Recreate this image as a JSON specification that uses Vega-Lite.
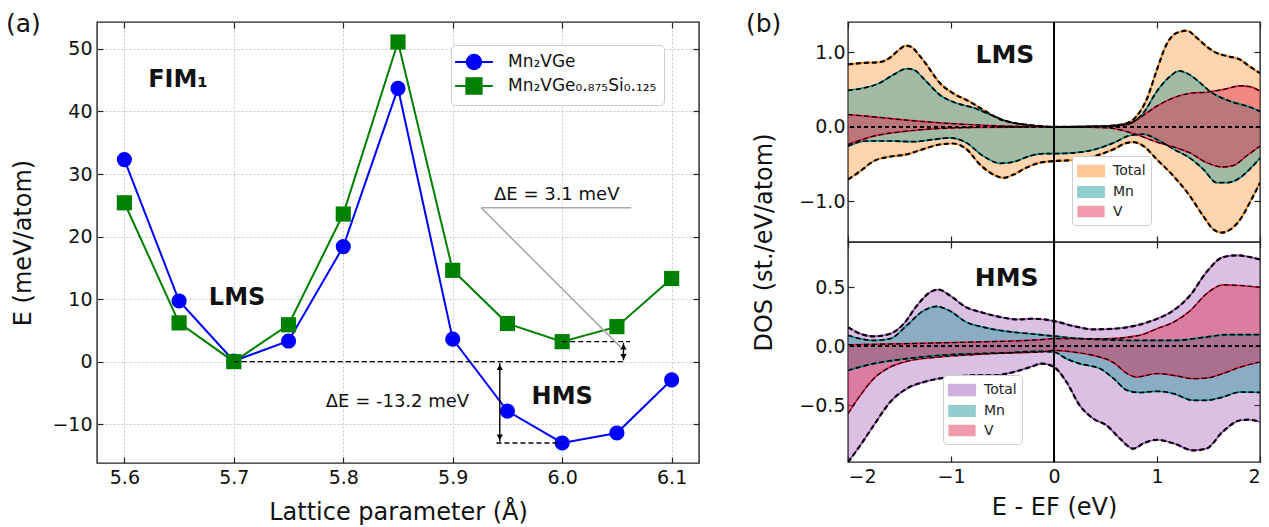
{
"$schema": "https://vega.github.io/schema/vega-lite/v6.json",
"background": "white",
"padding": {"left": 5, "top": 11, "right": 2, "bottom": 2},
"config": {
  "font": "DejaVu Sans",
  "view": {"stroke": "#222", "strokeWidth": 1.4},
  "axis": {"domain": false, "tickColor": "#222", "tickSize": -6, "tickWidth": 1.2, "labelFontSize": 19, "labelColor": "#111", "titleFontSize": 23, "titleFontWeight": "normal", "titleColor": "#111", "labelPadding": 11, "grid": false},
  "title": {"fontSize": 25, "fontWeight": "normal", "color": "#111", "baseline": "bottom"}
},
"datasets": {
  "energy": [
    {"a":5.60,"E":32.3,"c":"Mn₂VGe"},{"a":5.65,"E":9.7,"c":"Mn₂VGe"},{"a":5.70,"E":0.1,"c":"Mn₂VGe"},{"a":5.75,"E":3.3,"c":"Mn₂VGe"},{"a":5.80,"E":18.4,"c":"Mn₂VGe"},{"a":5.85,"E":43.7,"c":"Mn₂VGe"},{"a":5.90,"E":3.6,"c":"Mn₂VGe"},{"a":5.95,"E":-7.9,"c":"Mn₂VGe"},{"a":6.00,"E":-13.0,"c":"Mn₂VGe"},{"a":6.05,"E":-11.4,"c":"Mn₂VGe"},{"a":6.10,"E":-2.9,"c":"Mn₂VGe"},
    {"a":5.60,"E":25.4,"c":"Mn₂VGe₀.₈₇₅Si₀.₁₂₅"},{"a":5.65,"E":6.2,"c":"Mn₂VGe₀.₈₇₅Si₀.₁₂₅"},{"a":5.70,"E":0.0,"c":"Mn₂VGe₀.₈₇₅Si₀.₁₂₅"},{"a":5.75,"E":5.9,"c":"Mn₂VGe₀.₈₇₅Si₀.₁₂₅"},{"a":5.80,"E":23.6,"c":"Mn₂VGe₀.₈₇₅Si₀.₁₂₅"},{"a":5.85,"E":51.1,"c":"Mn₂VGe₀.₈₇₅Si₀.₁₂₅"},{"a":5.90,"E":14.6,"c":"Mn₂VGe₀.₈₇₅Si₀.₁₂₅"},{"a":5.95,"E":6.1,"c":"Mn₂VGe₀.₈₇₅Si₀.₁₂₅"},{"a":6.00,"E":3.2,"c":"Mn₂VGe₀.₈₇₅Si₀.₁₂₅"},{"a":6.05,"E":5.6,"c":"Mn₂VGe₀.₈₇₅Si₀.₁₂₅"},{"a":6.10,"E":13.3,"c":"Mn₂VGe₀.₈₇₅Si₀.₁₂₅"}
  ],
  "lms": [
    {"s":"Total","spin":"up","e":-2,"d":0.837},{"s":"Total","spin":"up","e":-1.88,"d":0.855},{"s":"Total","spin":"up","e":-1.69,"d":0.87},{"s":"Total","spin":"up","e":-1.59,"d":0.93},{"s":"Total","spin":"up","e":-1.5,"d":1.04},{"s":"Total","spin":"up","e":-1.44,"d":1.09},{"s":"Total","spin":"up","e":-1.38,"d":1.07},{"s":"Total","spin":"up","e":-1.32,"d":0.98},{"s":"Total","spin":"up","e":-1.24,"d":0.84},{"s":"Total","spin":"up","e":-1.11,"d":0.59},{"s":"Total","spin":"up","e":-0.98,"d":0.45},{"s":"Total","spin":"up","e":-0.82,"d":0.34},{"s":"Total","spin":"up","e":-0.69,"d":0.23},{"s":"Total","spin":"up","e":-0.52,"d":0.10},{"s":"Total","spin":"up","e":-0.36,"d":0.045},{"s":"Total","spin":"up","e":-0.2,"d":0.018},{"s":"Total","spin":"up","e":0,"d":0.0},{"s":"Total","spin":"up","e":0.19,"d":0.0},{"s":"Total","spin":"up","e":0.51,"d":0.01},{"s":"Total","spin":"up","e":0.71,"d":0.05},{"s":"Total","spin":"up","e":0.8,"d":0.14},{"s":"Total","spin":"up","e":0.9,"d":0.37},{"s":"Total","spin":"up","e":1.0,"d":0.77},{"s":"Total","spin":"up","e":1.09,"d":1.1},{"s":"Total","spin":"up","e":1.19,"d":1.26},{"s":"Total","spin":"up","e":1.29,"d":1.29},{"s":"Total","spin":"up","e":1.39,"d":1.19},{"s":"Total","spin":"up","e":1.48,"d":1.08},{"s":"Total","spin":"up","e":1.58,"d":0.99},{"s":"Total","spin":"up","e":1.68,"d":0.95},{"s":"Total","spin":"up","e":1.81,"d":0.90},{"s":"Total","spin":"up","e":1.90,"d":0.81},{"s":"Total","spin":"up","e":2.0,"d":0.72},
    {"s":"Total","spin":"dn","e":-2,"d":-0.707},{"s":"Total","spin":"dn","e":-1.88,"d":-0.595},{"s":"Total","spin":"dn","e":-1.75,"d":-0.46},{"s":"Total","spin":"dn","e":-1.59,"d":-0.40},{"s":"Total","spin":"dn","e":-1.43,"d":-0.37},{"s":"Total","spin":"dn","e":-1.27,"d":-0.30},{"s":"Total","spin":"dn","e":-1.11,"d":-0.237},{"s":"Total","spin":"dn","e":-0.98,"d":-0.224},{"s":"Total","spin":"dn","e":-0.85,"d":-0.30},{"s":"Total","spin":"dn","e":-0.72,"d":-0.505},{"s":"Total","spin":"dn","e":-0.59,"d":-0.64},{"s":"Total","spin":"dn","e":-0.49,"d":-0.685},{"s":"Total","spin":"dn","e":-0.39,"d":-0.64},{"s":"Total","spin":"dn","e":-0.27,"d":-0.55},{"s":"Total","spin":"dn","e":-0.14,"d":-0.483},{"s":"Total","spin":"dn","e":0,"d":-0.46},{"s":"Total","spin":"dn","e":0.19,"d":-0.447},{"s":"Total","spin":"dn","e":0.38,"d":-0.40},{"s":"Total","spin":"dn","e":0.58,"d":-0.30},{"s":"Total","spin":"dn","e":0.71,"d":-0.215},{"s":"Total","spin":"dn","e":0.77,"d":-0.206},{"s":"Total","spin":"dn","e":0.87,"d":-0.26},{"s":"Total","spin":"dn","e":1.0,"d":-0.44},{"s":"Total","spin":"dn","e":1.16,"d":-0.66},{"s":"Total","spin":"dn","e":1.32,"d":-0.93},{"s":"Total","spin":"dn","e":1.45,"d":-1.2},{"s":"Total","spin":"dn","e":1.55,"d":-1.38},{"s":"Total","spin":"dn","e":1.63,"d":-1.42},{"s":"Total","spin":"dn","e":1.71,"d":-1.38},{"s":"Total","spin":"dn","e":1.81,"d":-1.24},{"s":"Total","spin":"dn","e":1.90,"d":-1.02},{"s":"Total","spin":"dn","e":2.0,"d":-0.75},
    {"s":"Mn","spin":"up","e":-2,"d":0.49},{"s":"Mn","spin":"up","e":-1.69,"d":0.59},{"s":"Mn","spin":"up","e":-1.56,"d":0.70},{"s":"Mn","spin":"up","e":-1.43,"d":0.78},{"s":"Mn","spin":"up","e":-1.37,"d":0.77},{"s":"Mn","spin":"up","e":-1.24,"d":0.61},{"s":"Mn","spin":"up","e":-1.11,"d":0.43},{"s":"Mn","spin":"up","e":-0.95,"d":0.32},{"s":"Mn","spin":"up","e":-0.78,"d":0.255},{"s":"Mn","spin":"up","e":-0.62,"d":0.165},{"s":"Mn","spin":"up","e":-0.46,"d":0.076},{"s":"Mn","spin":"up","e":-0.27,"d":0.027},{"s":"Mn","spin":"up","e":0,"d":0.0},{"s":"Mn","spin":"up","e":0.51,"d":0.01},{"s":"Mn","spin":"up","e":0.74,"d":0.05},{"s":"Mn","spin":"up","e":0.87,"d":0.19},{"s":"Mn","spin":"up","e":1.0,"d":0.48},{"s":"Mn","spin":"up","e":1.13,"d":0.68},{"s":"Mn","spin":"up","e":1.21,"d":0.75},{"s":"Mn","spin":"up","e":1.29,"d":0.72},{"s":"Mn","spin":"up","e":1.42,"d":0.59},{"s":"Mn","spin":"up","e":1.51,"d":0.48},{"s":"Mn","spin":"up","e":1.61,"d":0.40},{"s":"Mn","spin":"up","e":1.74,"d":0.33},{"s":"Mn","spin":"up","e":1.87,"d":0.28},{"s":"Mn","spin":"up","e":2.0,"d":0.21},
    {"s":"Mn","spin":"dn","e":-2,"d":-0.26},{"s":"Mn","spin":"dn","e":-1.82,"d":-0.19},{"s":"Mn","spin":"dn","e":-1.59,"d":-0.19},{"s":"Mn","spin":"dn","e":-1.37,"d":-0.20},{"s":"Mn","spin":"dn","e":-1.17,"d":-0.17},{"s":"Mn","spin":"dn","e":-1.01,"d":-0.148},{"s":"Mn","spin":"dn","e":-0.85,"d":-0.215},{"s":"Mn","spin":"dn","e":-0.69,"d":-0.39},{"s":"Mn","spin":"dn","e":-0.52,"d":-0.49},{"s":"Mn","spin":"dn","e":-0.39,"d":-0.47},{"s":"Mn","spin":"dn","e":-0.23,"d":-0.39},{"s":"Mn","spin":"dn","e":-0.10,"d":-0.36},{"s":"Mn","spin":"dn","e":0,"d":-0.36},{"s":"Mn","spin":"dn","e":0.19,"d":-0.35},{"s":"Mn","spin":"dn","e":0.38,"d":-0.31},{"s":"Mn","spin":"dn","e":0.58,"d":-0.215},{"s":"Mn","spin":"dn","e":0.74,"d":-0.116},{"s":"Mn","spin":"dn","e":0.87,"d":-0.10},{"s":"Mn","spin":"dn","e":1.0,"d":-0.17},{"s":"Mn","spin":"dn","e":1.16,"d":-0.30},{"s":"Mn","spin":"dn","e":1.32,"d":-0.42},{"s":"Mn","spin":"dn","e":1.45,"d":-0.57},{"s":"Mn","spin":"dn","e":1.58,"d":-0.75},{"s":"Mn","spin":"dn","e":1.68,"d":-0.75},{"s":"Mn","spin":"dn","e":1.81,"d":-0.68},{"s":"Mn","spin":"dn","e":1.90,"d":-0.57},{"s":"Mn","spin":"dn","e":2.0,"d":-0.42},
    {"s":"V","spin":"up","e":-2,"d":0.165},{"s":"V","spin":"up","e":-1.75,"d":0.134},{"s":"V","spin":"up","e":-1.43,"d":0.09},{"s":"V","spin":"up","e":-1.11,"d":0.054},{"s":"V","spin":"up","e":-0.78,"d":0.027},{"s":"V","spin":"up","e":-0.46,"d":0.009},{"s":"V","spin":"up","e":0,"d":0.0},{"s":"V","spin":"up","e":0.51,"d":0.004},{"s":"V","spin":"up","e":0.71,"d":0.027},{"s":"V","spin":"up","e":0.83,"d":0.12},{"s":"V","spin":"up","e":1.0,"d":0.28},{"s":"V","spin":"up","e":1.16,"d":0.39},{"s":"V","spin":"up","e":1.32,"d":0.45},{"s":"V","spin":"up","e":1.48,"d":0.465},{"s":"V","spin":"up","e":1.64,"d":0.50},{"s":"V","spin":"up","e":1.81,"d":0.55},{"s":"V","spin":"up","e":1.90,"d":0.54},{"s":"V","spin":"up","e":2.0,"d":0.48},
    {"s":"V","spin":"dn","e":-2,"d":-0.237},{"s":"V","spin":"dn","e":-1.75,"d":-0.125},{"s":"V","spin":"dn","e":-1.43,"d":-0.058},{"s":"V","spin":"dn","e":-1.11,"d":-0.022},{"s":"V","spin":"dn","e":-0.78,"d":-0.009},{"s":"V","spin":"dn","e":0,"d":0.0},{"s":"V","spin":"dn","e":0.51,"d":-0.013},{"s":"V","spin":"dn","e":0.77,"d":-0.09},{"s":"V","spin":"dn","e":1.0,"d":-0.206},{"s":"V","spin":"dn","e":1.16,"d":-0.27},{"s":"V","spin":"dn","e":1.32,"d":-0.35},{"s":"V","spin":"dn","e":1.48,"d":-0.48},{"s":"V","spin":"dn","e":1.64,"d":-0.54},{"s":"V","spin":"dn","e":1.74,"d":-0.52},{"s":"V","spin":"dn","e":1.87,"d":-0.39},{"s":"V","spin":"dn","e":2.0,"d":-0.26}
  ],
  "hms": [
    {"s":"Total","spin":"up","e":-2,"d":0.163},{"s":"Total","spin":"up","e":-1.88,"d":0.107},{"s":"Total","spin":"up","e":-1.75,"d":0.085},{"s":"Total","spin":"up","e":-1.59,"d":0.107},{"s":"Total","spin":"up","e":-1.46,"d":0.19},{"s":"Total","spin":"up","e":-1.33,"d":0.346},{"s":"Total","spin":"up","e":-1.20,"d":0.46},{"s":"Total","spin":"up","e":-1.12,"d":0.48},{"s":"Total","spin":"up","e":-1.01,"d":0.43},{"s":"Total","spin":"up","e":-0.85,"d":0.33},{"s":"Total","spin":"up","e":-0.69,"d":0.285},{"s":"Total","spin":"up","e":-0.52,"d":0.248},{"s":"Total","spin":"up","e":-0.36,"d":0.228},{"s":"Total","spin":"up","e":-0.20,"d":0.234},{"s":"Total","spin":"up","e":0,"d":0.214},{"s":"Total","spin":"up","e":0.19,"d":0.172},{"s":"Total","spin":"up","e":0.38,"d":0.144},{"s":"Total","spin":"up","e":0.58,"d":0.149},{"s":"Total","spin":"up","e":0.77,"d":0.172},{"s":"Total","spin":"up","e":0.96,"d":0.22},{"s":"Total","spin":"up","e":1.16,"d":0.304},{"s":"Total","spin":"up","e":1.32,"d":0.43},{"s":"Total","spin":"up","e":1.48,"d":0.628},{"s":"Total","spin":"up","e":1.64,"d":0.755},{"s":"Total","spin":"up","e":1.77,"d":0.77},{"s":"Total","spin":"up","e":2.0,"d":0.735},
    {"s":"Total","spin":"dn","e":-2,"d":-0.98},{"s":"Total","spin":"dn","e":-1.88,"d":-0.837},{"s":"Total","spin":"dn","e":-1.75,"d":-0.668},{"s":"Total","spin":"dn","e":-1.59,"d":-0.47},{"s":"Total","spin":"dn","e":-1.43,"d":-0.358},{"s":"Total","spin":"dn","e":-1.24,"d":-0.296},{"s":"Total","spin":"dn","e":-1.01,"d":-0.259},{"s":"Total","spin":"dn","e":-0.78,"d":-0.245},{"s":"Total","spin":"dn","e":-0.59,"d":-0.245},{"s":"Total","spin":"dn","e":-0.39,"d":-0.217},{"s":"Total","spin":"dn","e":-0.23,"d":-0.175},{"s":"Total","spin":"dn","e":-0.12,"d":-0.146},{"s":"Total","spin":"dn","e":0,"d":-0.175},{"s":"Total","spin":"dn","e":0.12,"d":-0.30},{"s":"Total","spin":"dn","e":0.25,"d":-0.50},{"s":"Total","spin":"dn","e":0.38,"d":-0.61},{"s":"Total","spin":"dn","e":0.51,"d":-0.668},{"s":"Total","spin":"dn","e":0.64,"d":-0.78},{"s":"Total","spin":"dn","e":0.77,"d":-0.865},{"s":"Total","spin":"dn","e":0.87,"d":-0.82},{"s":"Total","spin":"dn","e":1.0,"d":-0.79},{"s":"Total","spin":"dn","e":1.16,"d":-0.82},{"s":"Total","spin":"dn","e":1.35,"d":-0.88},{"s":"Total","spin":"dn","e":1.48,"d":-0.865},{"s":"Total","spin":"dn","e":1.64,"d":-0.72},{"s":"Total","spin":"dn","e":1.81,"d":-0.625},{"s":"Total","spin":"dn","e":1.90,"d":-0.62},{"s":"Total","spin":"dn","e":2.0,"d":-0.64},
    {"s":"Mn","spin":"up","e":-2,"d":0.093},{"s":"Mn","spin":"up","e":-1.75,"d":0.05},{"s":"Mn","spin":"up","e":-1.59,"d":0.065},{"s":"Mn","spin":"up","e":-1.43,"d":0.177},{"s":"Mn","spin":"up","e":-1.27,"d":0.30},{"s":"Mn","spin":"up","e":-1.14,"d":0.338},{"s":"Mn","spin":"up","e":-1.01,"d":0.30},{"s":"Mn","spin":"up","e":-0.85,"d":0.205},{"s":"Mn","spin":"up","e":-0.69,"d":0.163},{"s":"Mn","spin":"up","e":-0.46,"d":0.127},{"s":"Mn","spin":"up","e":-0.23,"d":0.107},{"s":"Mn","spin":"up","e":0,"d":0.087},{"s":"Mn","spin":"up","e":0.19,"d":0.07},{"s":"Mn","spin":"up","e":0.51,"d":0.056},{"s":"Mn","spin":"up","e":0.83,"d":0.05},{"s":"Mn","spin":"up","e":1.16,"d":0.05},{"s":"Mn","spin":"up","e":1.48,"d":0.079},{"s":"Mn","spin":"up","e":1.68,"d":0.099},{"s":"Mn","spin":"up","e":2.0,"d":0.099},
    {"s":"Mn","spin":"dn","e":-2,"d":-0.203},{"s":"Mn","spin":"dn","e":-1.75,"d":-0.146},{"s":"Mn","spin":"dn","e":-1.43,"d":-0.104},{"s":"Mn","spin":"dn","e":-1.11,"d":-0.076},{"s":"Mn","spin":"dn","e":-0.78,"d":-0.062},{"s":"Mn","spin":"dn","e":-0.46,"d":-0.054},{"s":"Mn","spin":"dn","e":-0.14,"d":-0.042},{"s":"Mn","spin":"dn","e":0,"d":-0.048},{"s":"Mn","spin":"dn","e":0.12,"d":-0.104},{"s":"Mn","spin":"dn","e":0.25,"d":-0.146},{"s":"Mn","spin":"dn","e":0.45,"d":-0.19},{"s":"Mn","spin":"dn","e":0.58,"d":-0.273},{"s":"Mn","spin":"dn","e":0.71,"d":-0.372},{"s":"Mn","spin":"dn","e":0.83,"d":-0.39},{"s":"Mn","spin":"dn","e":1.0,"d":-0.38},{"s":"Mn","spin":"dn","e":1.16,"d":-0.40},{"s":"Mn","spin":"dn","e":1.35,"d":-0.456},{"s":"Mn","spin":"dn","e":1.48,"d":-0.456},{"s":"Mn","spin":"dn","e":1.64,"d":-0.428},{"s":"Mn","spin":"dn","e":1.81,"d":-0.386},{"s":"Mn","spin":"dn","e":2.0,"d":-0.39},
    {"s":"V","spin":"up","e":-2,"d":0.014},{"s":"V","spin":"up","e":-1.43,"d":0.023},{"s":"V","spin":"up","e":-0.78,"d":0.037},{"s":"V","spin":"up","e":-0.14,"d":0.056},{"s":"V","spin":"up","e":0,"d":0.065},{"s":"V","spin":"up","e":0.51,"d":0.065},{"s":"V","spin":"up","e":0.83,"d":0.093},{"s":"V","spin":"up","e":1.0,"d":0.15},{"s":"V","spin":"up","e":1.16,"d":0.205},{"s":"V","spin":"up","e":1.32,"d":0.30},{"s":"V","spin":"up","e":1.48,"d":0.445},{"s":"V","spin":"up","e":1.64,"d":0.52},{"s":"V","spin":"up","e":1.81,"d":0.515},{"s":"V","spin":"up","e":2.0,"d":0.50},
    {"s":"V","spin":"dn","e":-2,"d":-0.57},{"s":"V","spin":"dn","e":-1.88,"d":-0.414},{"s":"V","spin":"dn","e":-1.75,"d":-0.273},{"s":"V","spin":"dn","e":-1.59,"d":-0.175},{"s":"V","spin":"dn","e":-1.43,"d":-0.127},{"s":"V","spin":"dn","e":-1.11,"d":-0.09},{"s":"V","spin":"dn","e":-0.78,"d":-0.07},{"s":"V","spin":"dn","e":-0.46,"d":-0.056},{"s":"V","spin":"dn","e":-0.14,"d":-0.048},{"s":"V","spin":"dn","e":0,"d":-0.034},{"s":"V","spin":"dn","e":0.19,"d":-0.048},{"s":"V","spin":"dn","e":0.38,"d":-0.076},{"s":"V","spin":"dn","e":0.58,"d":-0.138},{"s":"V","spin":"dn","e":0.71,"d":-0.23},{"s":"V","spin":"dn","e":0.80,"d":-0.26},{"s":"V","spin":"dn","e":1.0,"d":-0.23},{"s":"V","spin":"dn","e":1.16,"d":-0.245},{"s":"V","spin":"dn","e":1.35,"d":-0.273},{"s":"V","spin":"dn","e":1.48,"d":-0.268},{"s":"V","spin":"dn","e":1.64,"d":-0.23},{"s":"V","spin":"dn","e":1.81,"d":-0.175},{"s":"V","spin":"dn","e":2.0,"d":-0.132}
  ]
},
"hconcat": [
  {
    "width": 602, "height": 441,
    "title": {"text": "(a)", "anchor": "start", "frame": "group", "dx": -91, "offset": -16},
    "resolve": {"axis": {"x": "independent", "y": "independent"}},
    "layer": [
      {
        "data": {"name": "energy"},
        "mark": {"type": "line", "strokeWidth": 2},
        "encoding": {
          "x": {"field": "a", "type": "quantitative", "scale": {"domain": [5.575, 6.125], "nice": false, "zero": false},
                "axis": {"values": [5.6, 5.7, 5.8, 5.9, 6.0, 6.1], "format": ".1f", "title": "Lattice parameter (Å)", "titleFontSize": 24, "grid": true, "gridDash": [2, 2], "gridColor": "#c8c8c8", "titlePadding": 13}},
          "y": {"field": "E", "type": "quantitative", "scale": {"domain": [-16.2, 54.3], "nice": false, "zero": false},
                "axis": {"values": [-10, 0, 10, 20, 30, 40, 50], "title": "E (meV/atom)", "titleFontSize": 24, "grid": true, "gridDash": [2, 2], "gridColor": "#c8c8c8", "titlePadding": 16}},
          "color": {"field": "c", "type": "nominal", "scale": {"domain": ["Mn₂VGe", "Mn₂VGe₀.₈₇₅Si₀.₁₂₅"], "range": ["#0000ff", "#008000"]},
                    "legend": {"title": null, "orient": "none", "legendX": 354, "legendY": 23, "labelFontSize": 17, "labelColor": "#111", "rowPadding": 0, "padding": 7, "strokeColor": "#cccccc", "fillColor": "white", "cornerRadius": 4, "symbolSize": 324, "symbolStrokeWidth": 2, "symbolOpacity": 1, "labelOffset": 30,
                      "encode": {"symbols": {"update": {"shape": {"signal": "datum.value === 'Mn₂VGe' ? 'M-2.1,0L2.1,0M0.8,0A0.8,0.8,0,1,1,-0.8,0A0.8,0.8,0,1,1,0.8,0Z' : 'M-2.1,0L2.1,0M-0.85,-0.85L0.85,-0.85L0.85,0.85L-0.85,0.85Z'"}, "x": {"value": 16}}}}}}
        }
      },
      {
        "data": {"name": "energy"},
        "transform": [{"filter": "datum.c === 'Mn₂VGe'"}],
        "mark": {"type": "point", "filled": true, "size": 230, "opacity": 1, "shape": "circle"},
        "encoding": {
          "x": {"field": "a", "type": "quantitative", "axis": null},
          "y": {"field": "E", "type": "quantitative", "axis": null},
          "color": {"field": "c", "type": "nominal"}
        }
      },
      {
        "data": {"name": "energy"},
        "transform": [{"filter": "datum.c !== 'Mn₂VGe'"}],
        "mark": {"type": "point", "filled": true, "size": 230, "opacity": 1, "shape": "square"},
        "encoding": {
          "x": {"field": "a", "type": "quantitative", "axis": null},
          "y": {"field": "E", "type": "quantitative", "axis": null},
          "color": {"field": "c", "type": "nominal"}
        }
      },
      {
        "data": {"values": [{"x1": 5.7, "x2": 6.058, "y": 0}, {"x1": 6.0, "x2": 6.062, "y": 3.2}, {"x1": 5.94, "x2": 6.0, "y": -13.0}]},
        "mark": {"type": "rule", "color": "black", "strokeWidth": 1.4, "strokeDash": [5, 3]},
        "encoding": {
          "x": {"field": "x1", "type": "quantitative", "axis": {"orient": "top", "labels": false, "title": null, "values": [5.6, 5.7, 5.8, 5.9, 6.0, 6.1]}},
          "x2": {"field": "x2"},
          "y": {"field": "y", "type": "quantitative", "axis": {"orient": "right", "labels": false, "title": null, "values": [-10, 0, 10, 20, 30, 40, 50]}}
        }
      },
      {
        "data": {"values": [{"x": 5.943, "y1": -0.2, "y2": -12.8}, {"x": 6.056, "y1": 0.2, "y2": 3.0}]},
        "mark": {"type": "rule", "color": "black", "strokeWidth": 1.4},
        "encoding": {
          "x": {"field": "x", "type": "quantitative", "axis": null},
          "y": {"field": "y1", "type": "quantitative", "axis": null},
          "y2": {"field": "y2"}
        }
      },
      {
        "data": {"values": [{"x": 5.943, "y": -0.9}, {"x": 6.056, "y": 2.4}]},
        "mark": {"type": "point", "shape": "triangle-up", "filled": true, "color": "black", "size": 40, "opacity": 1},
        "encoding": {"x": {"field": "x", "type": "quantitative", "axis": null}, "y": {"field": "y", "type": "quantitative", "axis": null}}
      },
      {
        "data": {"values": [{"x": 5.943, "y": -12.1}, {"x": 6.056, "y": 0.8}]},
        "mark": {"type": "point", "shape": "triangle-down", "filled": true, "color": "black", "size": 40, "opacity": 1},
        "encoding": {"x": {"field": "x", "type": "quantitative", "axis": null}, "y": {"field": "y", "type": "quantitative", "axis": null}}
      },
      {
        "data": {"values": [{"x1": 5.926, "y1": 24.6, "x2": 6.063, "y2": 24.6}, {"x1": 5.926, "y1": 24.6, "x2": 6.054, "y2": 2.2}]},
        "mark": {"type": "rule", "color": "#a8a8a8", "strokeWidth": 1.5},
        "encoding": {
          "x": {"field": "x1", "type": "quantitative", "axis": null},
          "y": {"field": "y1", "type": "quantitative", "axis": null},
          "x2": {"field": "x2"},
          "y2": {"field": "y2"}
        }
      },
      {
        "data": {"values": [{"x": 5.995, "y": 26.6, "t": "ΔE = 3.1 meV"}, {"x": 5.8495, "y": -6.4, "t": "ΔE = -13.2 meV"}]},
        "mark": {"type": "text", "fontSize": 18, "color": "#111"},
        "encoding": {"x": {"field": "x", "type": "quantitative", "axis": null}, "y": {"field": "y", "type": "quantitative", "axis": null}, "text": {"field": "t"}}
      },
      {
        "data": {"values": [{"x": 5.649, "y": 45.0, "t": "FIM₁"}, {"x": 5.703, "y": 10.2, "t": "LMS"}, {"x": 6.0, "y": -5.6, "t": "HMS"}]},
        "mark": {"type": "text", "fontSize": 24, "fontWeight": "bold", "color": "#111"},
        "encoding": {"x": {"field": "x", "type": "quantitative", "axis": null}, "y": {"field": "y", "type": "quantitative", "axis": null}, "text": {"field": "t"}}
      }
    ]
  },
  {
    "spacing": 0,
    "bounds": "flush",
    "resolve": {"scale": {"color": "independent", "strokeWidth": "independent"}},
    "vconcat": [
      {
        "width": 412, "height": 220,
        "title": {"text": "(b)", "anchor": "start", "frame": "group", "dx": -102, "offset": -16},
        "data": {"name": "lms"},
        "resolve": {"axis": {"x": "independent", "y": "independent"}},
        "layer": [
          {
            "mark": {"type": "area", "interpolate": "monotone", "clip": true},
            "encoding": {
              "x": {"field": "e", "type": "quantitative", "scale": {"domain": [-2, 2], "nice": false}, "axis": {"values": [-2, -1, 0, 1, 2], "labels": false, "title": null}},
              "y": {"field": "d", "type": "quantitative", "stack": null, "scale": {"domain": [-1.546, 1.407], "nice": false},
                    "axis": {"values": [-1, 0, 1], "format": ".1f", "title": "DOS (st./eV/atom)", "titleFontSize": 24, "titleY": 220, "titlePadding": 22, "labelPadding": 9}},
              "color": {"field": "s", "type": "nominal", "scale": {"domain": ["Total", "Mn", "V"], "range": ["#ff7f0e", "#008b8b", "#dc143c"]},
                        "legend": {"title": null, "orient": "none", "legendX": 224, "legendY": 134, "symbolType": "M-1.5,-0.6H1.5V0.6H-1.5Z", "symbolSize": 300, "symbolOpacity": 0.42, "labelFontSize": 14, "labelColor": "#222", "rowPadding": 1, "padding": 5, "strokeColor": "#cccccc", "fillColor": "white", "cornerRadius": 4, "symbolStrokeWidth": 1.5, "labelOffset": 16,
                          "encode": {"symbols": {"update": {"x": {"value": 14}}}}}},
              "fillOpacity": {"field": "s", "type": "nominal", "scale": {"domain": ["Total", "Mn", "V"], "range": [0.33, 0.4, 0.5]}, "legend": null},
              "detail": {"field": "spin"}
            }
          },
          {
            "mark": {"type": "line", "interpolate": "monotone", "strokeWidth": 1.6, "clip": true},
            "encoding": {
              "x": {"field": "e", "type": "quantitative", "axis": null},
              "y": {"field": "d", "type": "quantitative", "stack": null, "axis": null},
              "color": {"field": "s", "type": "nominal"},
              "detail": {"field": "spin"}
            }
          },
          {
            "mark": {"type": "line", "interpolate": "monotone", "color": "black", "strokeDash": [5, 3], "clip": true},
            "encoding": {
              "x": {"field": "e", "type": "quantitative", "axis": null},
              "y": {"field": "d", "type": "quantitative", "stack": null, "axis": null},
              "strokeWidth": {"field": "s", "type": "nominal", "scale": {"domain": ["Total", "Mn", "V"], "range": [2.2, 1.2, 1.2]}, "legend": null},
              "detail": {"field": "spin"}
            }
          },
          {
            "mark": {"type": "rule", "color": "black", "strokeWidth": 1, "strokeDash": [4, 3]},
            "encoding": {"y": {"datum": 0, "axis": {"orient": "right", "labels": false, "title": null, "values": [-1, 0, 1]}}}
          },
          {
            "mark": {"type": "rule", "color": "black", "strokeWidth": 1.3},
            "encoding": {"x": {"datum": 0, "axis": {"orient": "top", "labels": false, "title": null, "values": [-2, -1, 0, 1, 2]}}}
          },
          {
            "data": {"values": [{"x": -0.477, "y": 0.97, "t": "LMS"}]},
            "mark": {"type": "text", "fontSize": 25, "fontWeight": "bold", "color": "#111"},
            "encoding": {"x": {"field": "x", "type": "quantitative", "axis": null}, "y": {"field": "y", "type": "quantitative", "axis": null}, "text": {"field": "t"}}
          }
        ]
      },
      {
        "width": 412, "height": 220,
        "data": {"name": "hms"},
        "resolve": {"axis": {"x": "independent", "y": "independent"}},
        "layer": [
          {
            "mark": {"type": "area", "interpolate": "monotone", "clip": true},
            "encoding": {
              "x": {"field": "e", "type": "quantitative", "scale": {"domain": [-2, 2], "nice": false}, "axis": {"values": [-2, -1, 0, 1, 2], "format": "d", "title": "E - EF (eV)", "titleFontSize": 24, "titlePadding": 9}},
              "y": {"field": "d", "type": "quantitative", "stack": null, "scale": {"domain": [-0.978, 0.883], "nice": false},
                    "axis": {"values": [-0.5, 0, 0.5], "format": ".1f", "title": null, "labelPadding": 9}},
              "color": {"field": "s", "type": "nominal", "scale": {"domain": ["Total", "Mn", "V"], "range": ["#8e44ad", "#008b8b", "#dc143c"]},
                        "legend": {"title": null, "orient": "none", "legendX": 95, "legendY": 133, "symbolType": "M-1.5,-0.6H1.5V0.6H-1.5Z", "symbolSize": 300, "symbolOpacity": 0.42, "labelFontSize": 14, "labelColor": "#222", "rowPadding": 1, "padding": 5, "strokeColor": "#cccccc", "fillColor": "white", "cornerRadius": 4, "symbolStrokeWidth": 1.5, "labelOffset": 16,
                          "encode": {"symbols": {"update": {"x": {"value": 14}}}}}},
              "fillOpacity": {"field": "s", "type": "nominal", "scale": {"domain": ["Total", "Mn", "V"], "range": [0.4, 0.4, 0.5]}, "legend": null},
              "detail": {"field": "spin"}
            }
          },
          {
            "mark": {"type": "line", "interpolate": "monotone", "strokeWidth": 1.6, "clip": true},
            "encoding": {
              "x": {"field": "e", "type": "quantitative", "axis": null},
              "y": {"field": "d", "type": "quantitative", "stack": null, "axis": null},
              "color": {"field": "s", "type": "nominal"},
              "detail": {"field": "spin"}
            }
          },
          {
            "mark": {"type": "line", "interpolate": "monotone", "color": "black", "strokeDash": [5, 3], "clip": true},
            "encoding": {
              "x": {"field": "e", "type": "quantitative", "axis": null},
              "y": {"field": "d", "type": "quantitative", "stack": null, "axis": null},
              "strokeWidth": {"field": "s", "type": "nominal", "scale": {"domain": ["Total", "Mn", "V"], "range": [2.2, 1.2, 1.2]}, "legend": null},
              "detail": {"field": "spin"}
            }
          },
          {
            "mark": {"type": "rule", "color": "black", "strokeWidth": 1, "strokeDash": [4, 3]},
            "encoding": {"y": {"datum": 0, "axis": {"orient": "right", "labels": false, "title": null, "values": [-0.5, 0, 0.5]}}}
          },
          {
            "mark": {"type": "rule", "color": "black", "strokeWidth": 1.3},
            "encoding": {"x": {"datum": 0, "axis": {"orient": "top", "labels": false, "title": null, "values": [-2, -1, 0, 1, 2]}}}
          },
          {
            "data": {"values": [{"x": -0.46, "y": 0.578, "t": "HMS"}]},
            "mark": {"type": "text", "fontSize": 25, "fontWeight": "bold", "color": "#111"},
            "encoding": {"x": {"field": "x", "type": "quantitative", "axis": null}, "y": {"field": "y", "type": "quantitative", "axis": null}, "text": {"field": "t"}}
          }
        ]
      }
    ]
  }
],
"spacing": 149,
"bounds": "flush",
"resolve": {"scale": {"color": "independent", "fillOpacity": "independent", "strokeWidth": "independent"}}
}
